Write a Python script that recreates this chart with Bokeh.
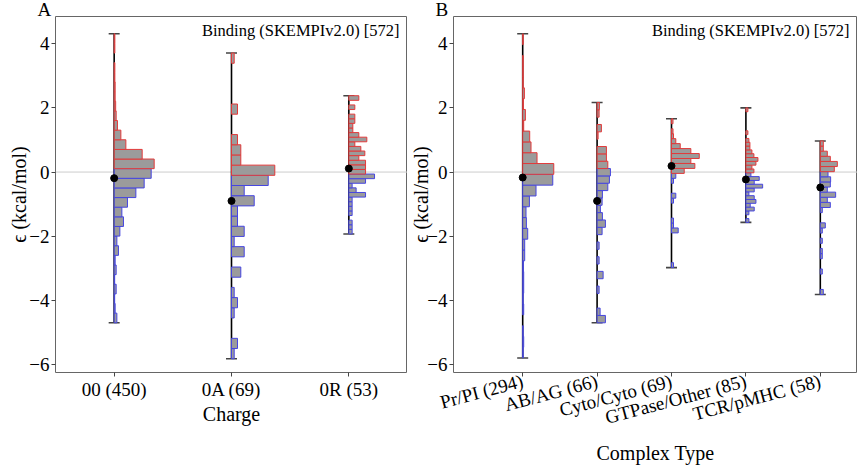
import numpy as np
from bokeh.plotting import figure
from bokeh.layouts import row
from bokeh.models import FixedTicker, Label, ColumnDataSource, Span, Whisker, TeeHead, Title
from bokeh.embed import file_html
from bokeh.resources import INLINE

FONT = "Liberation Serif"

# ---------------- data ----------------
charge_labels = ["00 (450)", "0A (69)", "0R (53)"]
charge_min = [-4.70, -5.82, -1.93]
charge_max = [4.31, 3.71, 2.38]
charge_mean = [-0.19, -0.90, 0.11]
charge_hist = [
    [2.7, 1, 0.5, 2, 0.5, 2, 1, 4.3, 2.7, 5.7, 9.3, 7.7, 13.3, 21.7, 30, 37, 40, 28, 11.7, 6.7,
     3.3, 2, 1.5, 1, 1, 0.7, 0.7, 0, 0.7, 0.7],
    [2.7, 6, 0, 0, 2.7, 6, 2.7, 0, 9.3, 0, 12.7, 2.7, 12.7, 6, 6, 22.7, 12.7, 36.7, 43.3, 9.3,
     9.3, 6, 0, 0, 6, 0, 0, 0, 0, 2.7],
    [3.3, 3.3, 3.3, 0, 3.3, 3.3, 3.3, 3.3, 16.7, 7.3, 3.3, 16.7, 25.7, 16.7, 16.7, 16.7, 10, 16, 12, 6,
     18, 10, 4, 4, 6, 6, 0, 6, 0, 10],
]

complex_labels = ["Pr/PI (294)", "AB/AG (66)", "Cyto/Cyto (69)", "GTPase/Other (85)", "TCR/pMHC (58)"]
complex_min = [-5.80, -4.70, -2.98, -1.57, -3.82]
complex_max = [4.31, 2.17, 1.66, 2.00, 0.97]
complex_mean = [-0.17, -0.90, 0.19, -0.23, -0.48]
complex_hist = [
    [0.5, 1, 0.5, 0, 1, 0.5, 1, 1, 0.7, 2, 2, 5, 3.7, 3.3, 6.7, 13.3, 30, 31, 14.3, 8.3,
     7, 1, 2.7, 0.7, 1.7, 0.5, 0.5, 0.5, 0, 0.5],
    [8.3, 3, 0, 0, 2, 0, 6, 0, 2, 0, 2, 0, 5, 8.3, 5.3, 3.3, 5, 5.3, 10.7, 12.3,
     13.3, 10.7, 9.3, 9.3, 0, 1, 4.3, 0, 2, 2.3],
    [2, 0, 0, 0, 0, 0, 0, 6.7, 2, 2, 0, 0, 0, 2, 4.3, 0, 0, 2, 4.3, 12.7,
     23.3, 19.3, 27.7, 19.3, 8.7, 4.3, 2, 1.5, 0, 1.5],
    [3, 0, 3, 8.3, 4.3, 10, 8.3, 3, 8.3, 16.7, 8.3, 13.3, 5, 8, 6, 10, 12, 8, 6, 4,
     4, 3, 0, 2, 0, 0, 0, 0, 0, 2],
    [3, 0, 0, 0, 2, 0, 0, 2, 2, 0, 2, 0, 2, 5, 0, 0, 2, 10, 7, 15.3,
     7, 10, 10.3, 7.7, 14, 17, 10, 7, 3, 3],
]

y_ticks = [-6, -4, -2, 0, 2, 4]
y_tick_labels = ["\u22126", "\u22124", "\u22122", "0", "2", "4"]
title_text = "Binding (SKEMPIv2.0) [572]"
y_label = "\u03f5 (kcal/mol)"

RED = "#e23a3a"
BLUE = "#4646e0"
FILL = "#9b9b9b"
Y_RANGE = (-6.25, 4.85)


def make_panel(labels, mins, maxs, means, hists, xlabel, letter, width, border_left,
               x_range, px_per_unit, angle, xtick_standoff, xlabel_standoff, ylabel_standoff):
    p = figure(width=width, height=467, x_range=x_range, y_range=Y_RANGE,
               output_backend="svg", toolbar_location=None, title=None,
               min_border_left=border_left, min_border_right=0,
               min_border_top=0, min_border_bottom=95)
    p.grid.visible = False
    p.outline_line_color = "#666666"
    p.outline_line_width = 1
    p.background_fill_color = "white"

    p.add_layout(Span(location=0, dimension="width", line_color="#cccccc",
                      line_width=1, level="underlay"))

    L, R, B, T, C = [], [], [], [], []
    for i, (lo, hi, h) in enumerate(zip(mins, maxs, hists)):
        edges = np.linspace(lo, hi, len(h) + 1)
        for j, v in enumerate(h):
            if v <= 0:
                continue
            L.append(i)
            R.append(i + v / px_per_unit)
            B.append(edges[j])
            T.append(edges[j + 1])
            C.append(RED if (edges[j] + edges[j + 1]) / 2 > 0 else BLUE)
    p.quad(left=L, right=R, bottom=B, top=T, fill_color=FILL, line_color=C, line_width=1)

    pos = list(range(len(labels)))
    src = ColumnDataSource(dict(x=pos, lo=mins, hi=maxs))
    p.add_layout(Whisker(source=src, base="x", lower="lo", upper="hi", dimension="height",
                         line_color="black", line_width=1.6,
                         upper_head=TeeHead(size=11, line_color="#444444", line_width=1.6),
                         lower_head=TeeHead(size=11, line_color="#444444", line_width=1.6)))
    p.scatter(x=pos, y=means, size=7, color="black")

    p.xaxis.ticker = FixedTicker(ticks=pos)
    p.xaxis.major_label_overrides = {i: lab for i, lab in enumerate(labels)}
    p.xaxis.major_label_orientation = angle
    p.xaxis.axis_label = xlabel
    p.yaxis.ticker = FixedTicker(ticks=y_ticks)
    p.yaxis.major_label_overrides = dict(zip(y_ticks, y_tick_labels))
    p.yaxis.axis_label = y_label
    for ax in (p.xaxis[0], p.yaxis[0]):
        ax.axis_line_color = None
        ax.major_tick_out = 4
        ax.major_tick_in = 0
        ax.major_tick_line_color = "#444444"
        ax.minor_tick_line_color = None
        ax.major_label_text_font = FONT
        ax.major_label_text_font_size = "19px"
        ax.major_label_text_color = "black"
        ax.axis_label_text_font = FONT
        ax.axis_label_text_font_size = "20px"
        ax.axis_label_text_font_style = "normal"
        ax.axis_label_text_color = "black"
    p.yaxis.major_label_standoff = 2
    p.yaxis.axis_label_standoff = ylabel_standoff
    p.xaxis.axis_label_standoff = xlabel_standoff
    p.xaxis.major_label_standoff = xtick_standoff

    p.add_layout(Label(x=x_range[1], y=Y_RANGE[1], x_offset=-8, y_offset=-4,
                       text=title_text, text_align="right", text_baseline="top",
                       text_font=FONT, text_font_size="16.5px", text_color="black"))
    p.add_layout(Title(text=letter, align="left", offset=-18, standoff=-7,
                       text_font=FONT, text_font_size="19px", text_font_style="normal",
                       text_color="black"), "above")
    return p


pa = make_panel(charge_labels, charge_min, charge_max, charge_mean, charge_hist,
                "Charge", "A", 407, 55, (-0.5, 2.5), 117.3, "horizontal", 2, 0, -4)
pb = make_panel(complex_labels, complex_min, complex_max, complex_mean, complex_hist,
                "Complex Type", "B", 450, 45, (-0.93, 4.5), 74.2, 0.26, 4, 1, -8)

layout = row(pa, pb)
open("out.html", "w").write(file_html(layout, INLINE))
